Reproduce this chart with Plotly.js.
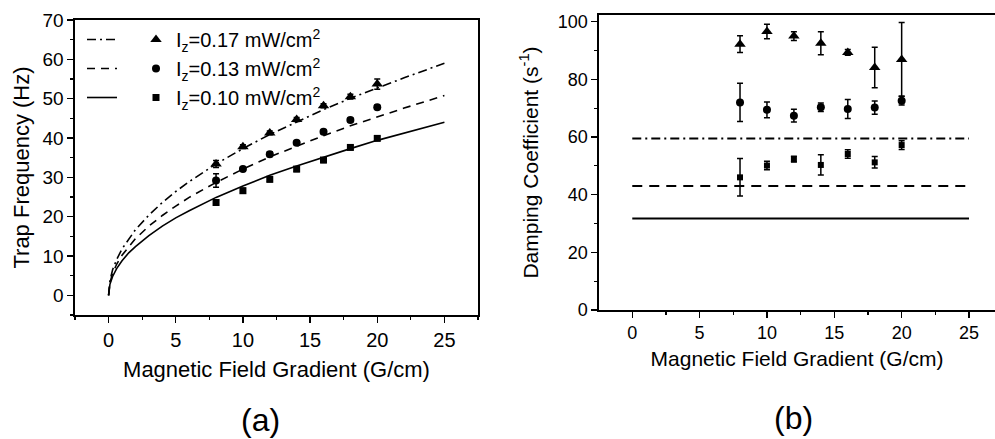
<!DOCTYPE html>
<html>
<head>
<meta charset="utf-8">
<script src="https://cdn.plot.ly/plotly-3.0.1.min.js"></script>
<style>html,body{margin:0;padding:0;background:#fff;}#chart{width:995px;height:439px;}</style>
</head>
<body>
<div id="chart"></div>
<script>
// ---- Panel (a): trap frequency ----
const gradX = [8, 10, 12, 14, 16, 18, 20];
const freq017 = [33.4, 37.8, 41.3, 44.7, 48.2, 50.5, 53.7];
const freq017Err = [0.9, 0.5, 0.5, 0.5, 0.5, 0.6, 1.3];
const freq013 = [29.2, 32.1, 35.9, 38.8, 41.6, 44.6, 47.8];
const freq013Err = [1.7, 0.5, 0.6, 0.5, 0.5, 0.5, 0.5];
const freq010 = [23.6, 26.6, 29.5, 32.1, 34.4, 37.6, 39.9];
const freq010Err = [0.6, 0.6, 0.6, 0.6, 0.6, 0.5, 0.5];

const fitX = [0, 0.1, 0.3, 0.6, 1, 1.5, 2, 3, 4, 5, 6, 8, 10, 12, 14, 16, 18, 20, 22, 25];
const fit017 = [0, 3.7, 6.5, 9.1, 11.8, 14.4, 16.7, 20.4, 23.6, 26.4, 28.9, 33.4, 37.3, 40.9, 44.1, 47.2, 50.1, 52.8, 55.3, 59.0];
const fit013 = [0, 3.2, 5.6, 7.9, 10.2, 12.4, 14.4, 17.6, 20.3, 22.7, 24.9, 28.7, 32.1, 35.2, 38.0, 40.6, 43.1, 45.4, 47.6, 50.8];
const fit010 = [0, 2.8, 4.8, 6.8, 8.8, 10.8, 12.4, 15.2, 17.6, 19.7, 21.5, 24.9, 27.8, 30.5, 32.9, 35.2, 37.3, 39.4, 41.3, 44.0];

// ---- Panel (b): damping coefficient ----
const damp017 = [92.2, 96.6, 95.0, 92.5, 89.3, 84.1, 86.9];
const damp017Err = [2.9, 2.5, 1.5, 4.0, 1.0, 7.0, 12.8];
const damp013 = [72.0, 69.4, 67.4, 70.3, 69.7, 70.2, 72.6];
const damp013Err = [6.6, 2.7, 2.2, 1.5, 3.3, 2.3, 1.5];
const damp010 = [46.0, 50.1, 52.3, 50.3, 54.1, 51.2, 57.2];
const damp010Err = [6.5, 1.5, 1.0, 3.5, 1.5, 2.0, 1.5];
const levelX = [0, 25];
const level017 = [59.5, 59.5];
const level013 = [43.0, 43.0];
const level010 = [31.7, 31.7];

const labels = ['I<sub>z</sub>=0.17 mW/cm<sup>2</sup>', 'I<sub>z</sub>=0.13 mW/cm<sup>2</sup>', 'I<sub>z</sub>=0.10 mW/cm<sup>2</sup>'];

const FONT = 'Liberation Sans, Arial, sans-serif';
const K = '#000';

function err(arr) {
  return {type: 'data', array: arr, visible: true, color: K, thickness: 1.5, width: 3};
}

const traces = [
  // fit lines, panel a (legend column 1)
  {x: fitX, y: fit017, mode: 'lines', line: {color: K, width: 1.6, dash: '9px,4px,2px,4px'}, name: ' ', legend: 'legend', legendgroup: 'a', xaxis: 'x', yaxis: 'y'},
  {x: fitX, y: fit013, mode: 'lines', line: {color: K, width: 1.6, dash: '8px,6px'}, name: ' ', legend: 'legend', legendgroup: 'b', xaxis: 'x', yaxis: 'y'},
  {x: fitX, y: fit010, mode: 'lines', line: {color: K, width: 1.6}, name: ' ', legend: 'legend', legendgroup: 'c', xaxis: 'x', yaxis: 'y'},
  // data, panel a (legend column 2)
  {x: gradX, y: freq017, error_y: err(freq017Err), mode: 'markers', marker: {symbol: 'triangle-up', size: 10, color: K}, name: labels[0], legend: 'legend2', legendgroup: 'd', xaxis: 'x', yaxis: 'y'},
  {x: gradX, y: freq013, error_y: err(freq013Err), mode: 'markers', marker: {symbol: 'circle', size: 8, color: K}, name: labels[1], legend: 'legend2', legendgroup: 'e', xaxis: 'x', yaxis: 'y'},
  {x: gradX, y: freq010, error_y: err(freq010Err), mode: 'markers', marker: {symbol: 'square', size: 7, color: K}, name: labels[2], legend: 'legend2', legendgroup: 'f', xaxis: 'x', yaxis: 'y'},
  // panel b
  {x: levelX, y: level017, mode: 'lines', line: {color: K, width: 2, dash: '9px,4px,2px,4px'}, showlegend: false, xaxis: 'x2', yaxis: 'y2'},
  {x: levelX, y: level013, mode: 'lines', line: {color: K, width: 2, dash: '10px,7px'}, showlegend: false, xaxis: 'x2', yaxis: 'y2'},
  {x: levelX, y: level010, mode: 'lines', line: {color: K, width: 2}, showlegend: false, xaxis: 'x2', yaxis: 'y2'},
  {x: gradX, y: damp017, error_y: err(damp017Err), mode: 'markers', marker: {symbol: 'triangle-up', size: 10, color: K}, showlegend: false, xaxis: 'x2', yaxis: 'y2'},
  {x: gradX, y: damp013, error_y: err(damp013Err), mode: 'markers', marker: {symbol: 'circle', size: 8, color: K}, showlegend: false, xaxis: 'x2', yaxis: 'y2'},
  {x: gradX, y: damp010, error_y: err(damp010Err), mode: 'markers', marker: {symbol: 'square', size: 6, color: K}, showlegend: false, xaxis: 'x2', yaxis: 'y2'}
];

function axis(extra) {
  return Object.assign({
    showline: true, linecolor: K, linewidth: 1.6,
    showgrid: false, zeroline: false,
    ticks: 'outside', ticklen: 6, tickwidth: 1.4, tickcolor: K,
    minor: {ticks: 'outside', ticklen: 3, tickwidth: 1.2, tickcolor: K},
    fixedrange: true
  }, extra);
}

const layout = {
  width: 995, height: 439,
  margin: {l: 0, r: 0, t: 0, b: 0},
  paper_bgcolor: '#fff', plot_bgcolor: '#fff',
  font: {family: FONT, color: K},
  xaxis: axis({
    domain: [75/995, 478/995], anchor: 'y', range: [-2.5, 27.5], tick0: 0, dtick: 5,
    minor: {ticks: 'outside', ticklen: 3, tickwidth: 1.2, tickcolor: K, dtick: 2.5},
    mirror: true, tickfont: {size: 20, family: FONT},
    title: {text: 'Magnetic Field Gradient (G/cm)', font: {size: 22, family: FONT}, standoff: 12}
  }),
  yaxis: axis({
    domain: [1 - 315/439, 1 - 20/439], anchor: 'x', range: [-5, 70], tick0: 0, dtick: 10,
    minor: {ticks: 'outside', ticklen: 3, tickwidth: 1.2, tickcolor: K, dtick: 5},
    mirror: true, tickfont: {size: 19, family: FONT},
    title: {text: 'Trap Frequency (Hz)', font: {size: 22, family: FONT}, standoff: 7}
  }),
  xaxis2: axis({
    domain: [599/995, 1], anchor: 'y2', range: [-2.47, 26.93], tick0: 0, dtick: 5,
    minor: {ticks: 'outside', ticklen: 3, tickwidth: 1.2, tickcolor: K, dtick: 2.5},
    mirror: true, tickfont: {size: 18, family: FONT},
    title: {text: 'Magnetic Field Gradient (G/cm)', font: {size: 21, family: FONT}, standoff: 9}
  }),
  yaxis2: axis({
    domain: [1 - 310/439, 1 - 15/439], anchor: 'x2', range: [0, 102.3], tick0: 0, dtick: 20,
    minor: {ticks: 'outside', ticklen: 3, tickwidth: 1.2, tickcolor: K, dtick: 10},
    mirror: false, tickfont: {size: 18, family: FONT},
    title: {text: 'Damping Coefficient (s<sup>-1</sup>)', font: {size: 21, family: FONT}, standoff: 13}
  }),
  legend: {
    x: 82/995, xanchor: 'left', y: 1 - 20/439, yanchor: 'top',
    bgcolor: 'rgba(0,0,0,0)', borderwidth: 0, font: {size: 20, family: FONT},
    traceorder: 'grouped', tracegroupgap: 0, itemwidth: 30
  },
  legend2: {
    x: 136/995, xanchor: 'left', y: 1 - 20/439, yanchor: 'top',
    bgcolor: 'rgba(0,0,0,0)', borderwidth: 0, font: {size: 20, family: FONT},
    traceorder: 'grouped', tracegroupgap: 0, itemwidth: 30
  },
  annotations: [
    {text: '(a)', xref: 'paper', yref: 'paper', x: 260/995, y: 1 - 420/439, xanchor: 'center', yanchor: 'middle', showarrow: false, font: {size: 32, family: FONT}},
    {text: '(b)', xref: 'paper', yref: 'paper', x: 793/995, y: 1 - 418/439, xanchor: 'center', yanchor: 'middle', showarrow: false, font: {size: 32, family: FONT}}
  ],
  showlegend: true
};

Plotly.newPlot('chart', traces, layout, {staticPlot: true, displayModeBar: false});
</script>
</body>
</html>
